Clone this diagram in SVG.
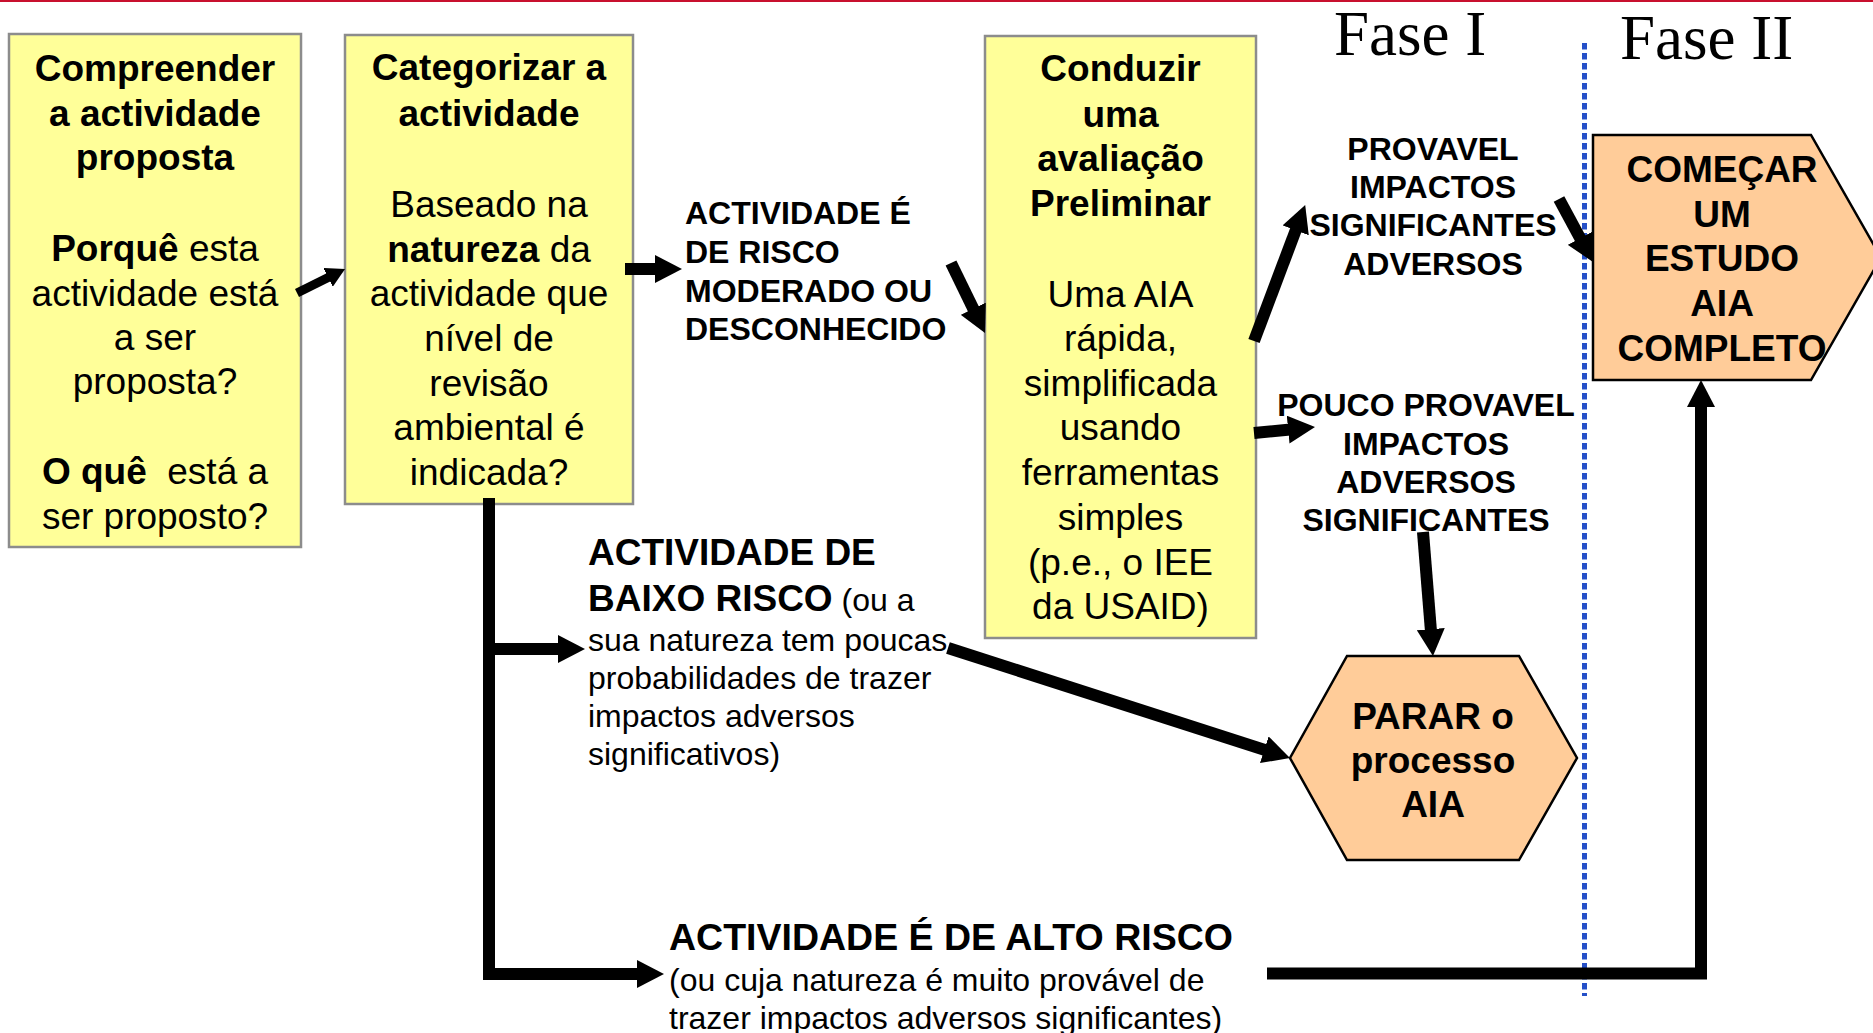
<svg xmlns="http://www.w3.org/2000/svg" width="1873" height="1033" viewBox="0 0 1873 1033">
<style>
.box{fill:#FFFF99;stroke:#8C8C8C;stroke-width:2.5}
.shape{fill:#FFCC99;stroke:#000;stroke-width:2.5}
text{font-family:"Liberation Sans",Arial,sans-serif;fill:#000}
.c{text-anchor:middle}
.b{font-weight:bold}
.s37{font-size:37px}
.s375{font-size:37.5px}
.s32{font-size:32px}
.fase{font-family:"Liberation Serif","Times New Roman",serif;font-size:63px}
.conn{fill:none;stroke:#000;stroke-width:12;stroke-linejoin:miter}
.thin{stroke-width:9}
</style>
<defs>
<marker id="ah" markerUnits="userSpaceOnUse" markerWidth="27" markerHeight="28" viewBox="0 0 27 28" refX="10" refY="14" orient="auto">
<path d="M0,0 L27,14 L0,28 Z" fill="#000"/>
</marker>
<marker id="ahs" markerUnits="userSpaceOnUse" markerWidth="19" markerHeight="21" viewBox="0 0 19 21" refX="8" refY="10.5" orient="auto">
<path d="M0,0 L19,10.5 L0,21 Z" fill="#000"/>
</marker>
</defs>
<rect x="0" y="0" width="1873" height="2" fill="#C8102E"/>
<line x1="1584.5" y1="43" x2="1584.5" y2="996" stroke="#2550C8" stroke-width="5" stroke-dasharray="6.5 3.5"/>
<text class="fase" x="1334" y="55">Fase I</text>
<text class="fase" x="1620" y="59">Fase II</text>

<g id="node-compreender">
<rect class="box" x="9" y="34" width="292" height="513"/>
<text class="c s37 b" x="155" y="81">Compreender</text>
<text class="c s37 b" x="155" y="126">a actividade</text>
<text class="c s37 b" x="155" y="170">proposta</text>
<text class="c s37" x="155" y="260.5"><tspan class="b">Porquê</tspan> esta</text>
<text class="c s37" x="155" y="305.5">actividade está</text>
<text class="c s37" x="155" y="350">a ser</text>
<text class="c s37" x="155" y="394">proposta?</text>
<text class="c s37" x="155" y="483.5" style="white-space:pre"><tspan class="b">O quê</tspan>  está a</text>
<text class="c s37" x="155" y="528.5">ser proposto?</text>
</g>

<g id="node-categorizar">
<rect class="box" x="345" y="35" width="288" height="469"/>
<text class="c s37 b" x="489" y="80">Categorizar a</text>
<text class="c s37 b" x="489" y="126">actividade</text>
<text class="c s37" x="489" y="216.5">Baseado na</text>
<text class="c s37" x="489" y="261.5"><tspan class="b">natureza</tspan> da</text>
<text class="c s37" x="489" y="305.5">actividade que</text>
<text class="c s37" x="489" y="350.5">nível de</text>
<text class="c s37" x="489" y="395.5">revisão</text>
<text class="c s37" x="489" y="439.5">ambiental é</text>
<text class="c s37" x="489" y="484.5">indicada?</text>
</g>

<g id="node-conduzir">
<rect class="box" x="985" y="36" width="271" height="602"/>
<text class="c s37 b" x="1120.5" y="81">Conduzir</text>
<text class="c s37 b" x="1120.5" y="127">uma</text>
<text class="c s37 b" x="1120.5" y="171">avaliação</text>
<text class="c s37 b" x="1120.5" y="216">Preliminar</text>
<text class="c s37" x="1120.5" y="307">Uma AIA</text>
<text class="c s37" x="1120.5" y="351">rápida,</text>
<text class="c s37" x="1120.5" y="396">simplificada</text>
<text class="c s37" x="1120.5" y="440">usando</text>
<text class="c s37" x="1120.5" y="485">ferramentas</text>
<text class="c s37" x="1120.5" y="530">simples</text>
<text class="c s37" x="1120.5" y="575">(p.e., o IEE</text>
<text class="c s37" x="1120.5" y="619">da USAID)</text>
</g>

<g id="node-comecar">
<polygon class="shape" points="1593,135 1811,135 1881,257.5 1811,380 1593,380"/>
<text class="c s37 b" x="1722" y="182">COMEÇAR</text>
<text class="c s37 b" x="1722" y="226.7">UM</text>
<text class="c s37 b" x="1722" y="271.4">ESTUDO</text>
<text class="c s37 b" x="1722" y="316">AIA</text>
<text class="c s37 b" x="1722" y="360.7">COMPLETO</text>
</g>

<g id="node-parar">
<polygon class="shape" points="1347,656 1519,656 1577,758 1519,860 1347,860 1290,758"/>
<text class="c s37 b" x="1433" y="728.5">PARAR o</text>
<text class="c s37 b" x="1433" y="773">processo</text>
<text class="c s37 b" x="1433" y="817">AIA</text>
</g>

<g id="label-moderado">
<text class="s32 b" x="685" y="224">ACTIVIDADE É</text>
<text class="s32 b" x="685" y="263">DE RISCO</text>
<text class="s32 b" x="685" y="301.5">MODERADO OU</text>
<text class="s32 b" x="685" y="340">DESCONHECIDO</text>
</g>

<g id="label-provavel">
<text class="c s32 b" x="1433" y="160">PROVAVEL</text>
<text class="c s32 b" x="1433" y="198">IMPACTOS</text>
<text class="c s32 b" x="1433" y="236">SIGNIFICANTES</text>
<text class="c s32 b" x="1433" y="275">ADVERSOS</text>
</g>

<g id="label-pouco">
<text class="c s32 b" x="1426" y="416">POUCO PROVAVEL</text>
<text class="c s32 b" x="1426" y="455">IMPACTOS</text>
<text class="c s32 b" x="1426" y="493">ADVERSOS</text>
<text class="c s32 b" x="1426" y="531">SIGNIFICANTES</text>
</g>

<g id="label-baixo">
<text class="s37 b" x="588" y="565">ACTIVIDADE DE</text>
<text x="588" y="610.5"><tspan class="s37 b">BAIXO RISCO</tspan><tspan class="s32"> (ou a</tspan></text>
<text class="s32" x="588" y="650.5">sua natureza tem poucas</text>
<text class="s32" x="588" y="688.5">probabilidades de trazer</text>
<text class="s32" x="588" y="726.5">impactos adversos</text>
<text class="s32" x="588" y="764.5">significativos)</text>
</g>

<g id="label-alto">
<text class="s375 b" x="669" y="949.5">ACTIVIDADE É DE ALTO RISCO</text>
<text class="s32" x="669" y="990.5">(ou cuja natureza é muito provável de</text>
<text class="s32" x="669" y="1028.5">trazer impactos adversos significantes)</text>
</g>

<g id="connectors">
<line class="conn thin" x1="297" y1="293" x2="335.2" y2="273.9" marker-end="url(#ahs)"/>
<line class="conn" x1="625" y1="269" x2="665" y2="269" marker-end="url(#ah)"/>
<line class="conn" x1="951" y1="263" x2="977.6" y2="317.7" marker-end="url(#ah)"/>
<line class="conn" x1="1254" y1="341" x2="1299.2" y2="221" marker-end="url(#ah)"/>
<line class="conn" x1="1559" y1="199" x2="1584.9" y2="247" marker-end="url(#ah)"/>
<line class="conn" x1="1254" y1="433" x2="1298.1" y2="428.7" marker-end="url(#ah)"/>
<line class="conn" x1="1423" y1="532" x2="1431.6" y2="639.1" marker-end="url(#ah)"/>
<line class="conn" x1="948" y1="648" x2="1273.8" y2="752.8" marker-end="url(#ah)"/>
<polyline class="conn" points="489,498 489,974 647,974" marker-end="url(#ah)"/>
<line class="conn" x1="489" y1="649" x2="568" y2="649" marker-end="url(#ah)"/>
<polyline class="conn" points="1267,973.5 1701,973.5 1701,397" marker-end="url(#ah)"/>
</g>
</svg>
